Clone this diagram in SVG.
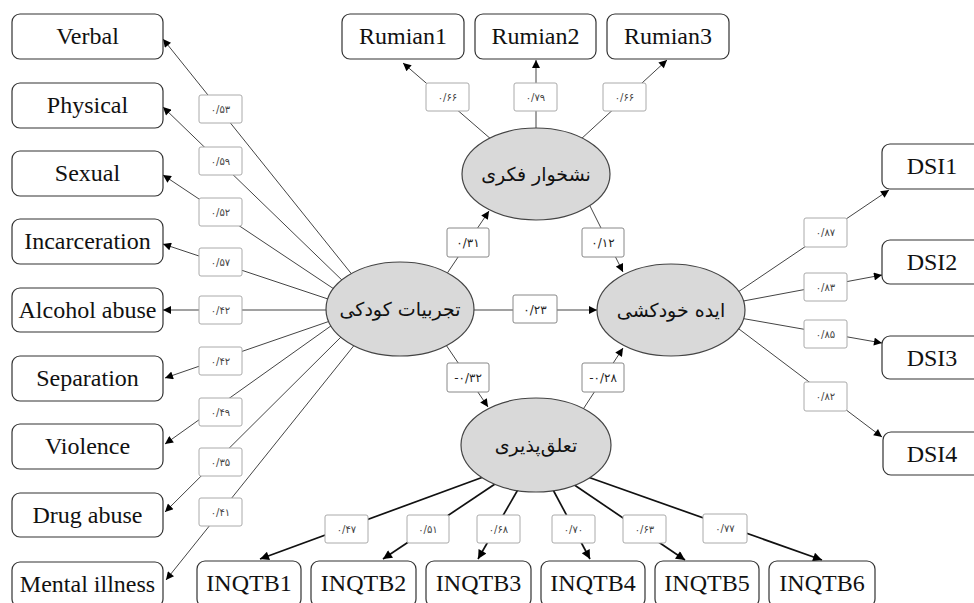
<svg xmlns="http://www.w3.org/2000/svg" width="974" height="603" viewBox="0 0 974 603">
<defs>
<marker id="ah" viewBox="0 0 10 10" refX="10" refY="5" markerWidth="9" markerHeight="8" markerUnits="userSpaceOnUse" orient="auto"><path d="M0,0 L10,5 L0,10 z" fill="#000"/></marker>
<marker id="ahb" viewBox="0 0 10 10" refX="10" refY="5" markerWidth="11" markerHeight="9" markerUnits="userSpaceOnUse" orient="auto"><path d="M0,0 L10,5 L0,10 z" fill="#000"/></marker>
</defs>
<style>
.box{fill:#fff;stroke:#333;stroke-width:1.2}
.bt{font-family:"Liberation Serif","Times New Roman",serif;font-size:24px;fill:#111;text-anchor:middle}
.ell{fill:#d9d9d9;stroke:#444;stroke-width:1.2}
.et{font-family:"DejaVu Sans","Noto Sans",sans-serif;font-size:19px;fill:#111;text-anchor:middle}
.c{fill:none;stroke:#444;stroke-width:1;marker-end:url(#ah)}
.cb{fill:none;stroke:#111;stroke-width:1.7;marker-end:url(#ahb)}
.lb{fill:#fff;stroke:#aaa;stroke-width:1}
.lt{font-family:"DejaVu Sans",sans-serif;font-size:10px;fill:#444;text-anchor:middle}
.lbm{fill:#fff;stroke:#888;stroke-width:1}
.ltm{font-family:"DejaVu Sans",sans-serif;font-size:12px;fill:#222;text-anchor:middle}
</style>
<rect width="974" height="603" fill="#fff"/>
<g id="connectors">
<path class="c" d="M354,277 L163,39"/>
<path class="c" d="M346,284 L163,107"/>
<path class="c" d="M337,291 L163,175"/>
<path class="c" d="M334,301 L163,244"/>
<path class="c" d="M332,310 L163,310"/>
<path class="c" d="M333,320 L165,378"/>
<path class="c" d="M335,323 L165,444"/>
<path class="c" d="M344,334 L165,512"/>
<path class="c" d="M356,343 L166,580"/>
<path class="c" d="M492,140 L403,63"/>
<path class="c" d="M536,132 L536,60"/>
<path class="c" d="M580,140 L667,60"/>
<path class="c" d="M444,278 L489,211"/>
<path class="c" d="M590,206 L623,272"/>
<path class="c" d="M470,310 L597,310"/>
<path class="c" d="M444,342 L488,407"/>
<path class="c" d="M580,414 L623,348"/>
<path class="c" d="M735,294 L889,190"/>
<path class="c" d="M738,302 L882,275"/>
<path class="c" d="M740,318 L882,343"/>
<path class="c" d="M735,326 L882,437"/>
<path class="cb" d="M486,476 L260,559"/>
<path class="cb" d="M498,482 L383,559"/>
<path class="cb" d="M520,486 L478,559"/>
<path class="cb" d="M551,486 L590,559"/>
<path class="cb" d="M570,482 L685,560"/>
<path class="cb" d="M585,476 L822,560"/>
</g>
<g id="edge-labels">
<rect class="lb" x="199" y="95" width="43" height="28" rx="2"/><text class="lt" x="220.5" y="113">۰/۵۳</text>
<rect class="lb" x="199" y="147" width="43" height="28" rx="2"/><text class="lt" x="220.5" y="165">۰/۵۹</text>
<rect class="lb" x="199" y="198" width="43" height="28" rx="2"/><text class="lt" x="220.5" y="216">۰/۵۲</text>
<rect class="lb" x="199" y="248" width="43" height="28" rx="2"/><text class="lt" x="220.5" y="266">۰/۵۷</text>
<rect class="lb" x="199" y="296" width="43" height="28" rx="2"/><text class="lt" x="220.5" y="314">۰/۴۲</text>
<rect class="lb" x="199" y="347" width="43" height="28" rx="2"/><text class="lt" x="220.5" y="365">۰/۴۲</text>
<rect class="lb" x="199" y="398" width="43" height="28" rx="2"/><text class="lt" x="220.5" y="416">۰/۴۹</text>
<rect class="lb" x="199" y="448" width="43" height="28" rx="2"/><text class="lt" x="220.5" y="466">۰/۳۵</text>
<rect class="lb" x="199" y="498" width="43" height="28" rx="2"/><text class="lt" x="220.5" y="516">۰/۴۱</text>
<rect class="lb" x="426" y="83" width="43" height="28" rx="2"/><text class="lt" x="447.5" y="101">۰/۶۶</text>
<rect class="lb" x="514" y="83" width="43" height="28" rx="2"/><text class="lt" x="535.5" y="101">۰/۷۹</text>
<rect class="lb" x="603" y="83" width="43" height="28" rx="2"/><text class="lt" x="624.5" y="101">۰/۶۶</text>
<rect class="lbm" x="447" y="228" width="42" height="29" rx="2"/><text class="ltm" x="468" y="247">۰/۳۱</text>
<rect class="lbm" x="582" y="228" width="42" height="29" rx="2"/><text class="ltm" x="603" y="247">۰/۱۲</text>
<rect class="lbm" x="513" y="295" width="44" height="28" rx="2"/><text class="ltm" x="535" y="314">۰/۲۳</text>
<rect class="lbm" x="447" y="363" width="42" height="29" rx="2"/><text class="ltm" x="468" y="382">-۰/۳۲</text>
<rect class="lbm" x="582" y="363" width="42" height="29" rx="2"/><text class="ltm" x="603" y="382">-۰/۲۸</text>
<rect class="lb" x="804" y="218" width="43" height="29" rx="2"/><text class="lt" x="825.5" y="236">۰/۸۷</text>
<rect class="lb" x="804" y="273" width="43" height="28" rx="2"/><text class="lt" x="825.5" y="291">۰/۸۳</text>
<rect class="lb" x="804" y="320" width="43" height="28" rx="2"/><text class="lt" x="825.5" y="338">۰/۸۵</text>
<rect class="lb" x="804" y="382" width="43" height="29" rx="2"/><text class="lt" x="825.5" y="400">۰/۸۲</text>
<rect class="lb" x="325" y="515" width="43" height="28" rx="2"/><text class="lt" x="346.5" y="533">۰/۴۷</text>
<rect class="lb" x="407" y="515" width="42" height="28" rx="2"/><text class="lt" x="428" y="533">۰/۵۱</text>
<rect class="lb" x="477" y="515" width="43" height="28" rx="2"/><text class="lt" x="498.5" y="533">۰/۶۸</text>
<rect class="lb" x="552" y="515" width="43" height="28" rx="2"/><text class="lt" x="573.5" y="533">۰/۷۰</text>
<rect class="lb" x="623" y="515" width="43" height="28" rx="2"/><text class="lt" x="644.5" y="533">۰/۶۳</text>
<rect class="lb" x="703" y="514" width="44" height="29" rx="2"/><text class="lt" x="725" y="532">۰/۷۷</text>
</g>
<g id="childhood"><ellipse class="ell" cx="400" cy="309" rx="74" ry="47"/><text class="et" x="400" y="316">تجربیات کودکی</text></g>
<g id="rumination"><ellipse class="ell" cx="536" cy="174" rx="74" ry="46"/><text class="et" x="536" y="181">نشخوار فکری</text></g>
<g id="ideation"><ellipse class="ell" cx="671" cy="310" rx="74" ry="46"/><text class="et" x="671" y="317">ایده خودکشی</text></g>
<g id="belonging"><ellipse class="ell" cx="536" cy="445" rx="75" ry="47"/><text class="et" x="536" y="452">تعلق‌پذیری</text></g>
<g id="verbal"><rect class="box" x="12" y="14" width="151" height="45" rx="8"/><text class="bt" x="87.5" y="44">Verbal</text></g>
<g id="physical"><rect class="box" x="12" y="83" width="151" height="45" rx="8"/><text class="bt" x="87.5" y="113">Physical</text></g>
<g id="sexual"><rect class="box" x="12" y="151" width="151" height="45" rx="8"/><text class="bt" x="87.5" y="181">Sexual</text></g>
<g id="incarceration"><rect class="box" x="12" y="219" width="151" height="45" rx="8"/><text class="bt" x="87.5" y="249">Incarceration</text></g>
<g id="alcohol"><rect class="box" x="12" y="288" width="151" height="44" rx="8"/><text class="bt" x="87.5" y="318">Alcohol abuse</text></g>
<g id="separation"><rect class="box" x="12" y="356" width="151" height="45" rx="8"/><text class="bt" x="87.5" y="386">Separation</text></g>
<g id="violence"><rect class="box" x="12" y="424" width="151" height="45" rx="8"/><text class="bt" x="87.5" y="454">Violence</text></g>
<g id="drug"><rect class="box" x="12" y="493" width="151" height="44" rx="8"/><text class="bt" x="87.5" y="523">Drug abuse</text></g>
<g id="mental"><rect class="box" x="12" y="562" width="151" height="45" rx="8"/><text class="bt" x="87.5" y="592">Mental illness</text></g>
<g id="rumian1"><rect class="box" x="342" y="14" width="122" height="45" rx="8"/><text class="bt" x="403" y="44">Rumian1</text></g>
<g id="rumian2"><rect class="box" x="475" y="14" width="121" height="45" rx="8"/><text class="bt" x="535.5" y="44">Rumian2</text></g>
<g id="rumian3"><rect class="box" x="607" y="14" width="122" height="45" rx="8"/><text class="bt" x="668" y="44">Rumian3</text></g>
<g id="dsi1"><rect class="box" x="882" y="144" width="102" height="45" rx="8"/><text class="bt" x="932" y="174">DSI1</text></g>
<g id="dsi2"><rect class="box" x="882" y="240" width="102" height="44" rx="8"/><text class="bt" x="932" y="270">DSI2</text></g>
<g id="dsi3"><rect class="box" x="882" y="336" width="102" height="43" rx="8"/><text class="bt" x="932" y="366">DSI3</text></g>
<g id="dsi4"><rect class="box" x="883" y="432" width="102" height="43" rx="8"/><text class="bt" x="932" y="462">DSI4</text></g>
<g id="inqtb1"><rect class="box" x="197" y="561" width="104" height="46" rx="8"/><text class="bt" x="249" y="591">INQTB1</text></g>
<g id="inqtb2"><rect class="box" x="311" y="561" width="105" height="46" rx="8"/><text class="bt" x="363.5" y="591">INQTB2</text></g>
<g id="inqtb3"><rect class="box" x="426" y="561" width="105" height="46" rx="8"/><text class="bt" x="478.5" y="591">INQTB3</text></g>
<g id="inqtb4"><rect class="box" x="541" y="561" width="104" height="46" rx="8"/><text class="bt" x="593" y="591">INQTB4</text></g>
<g id="inqtb5"><rect class="box" x="655" y="561" width="104" height="46" rx="8"/><text class="bt" x="707" y="591">INQTB5</text></g>
<g id="inqtb6"><rect class="box" x="769" y="561" width="106" height="46" rx="8"/><text class="bt" x="822" y="591">INQTB6</text></g>
</svg>
